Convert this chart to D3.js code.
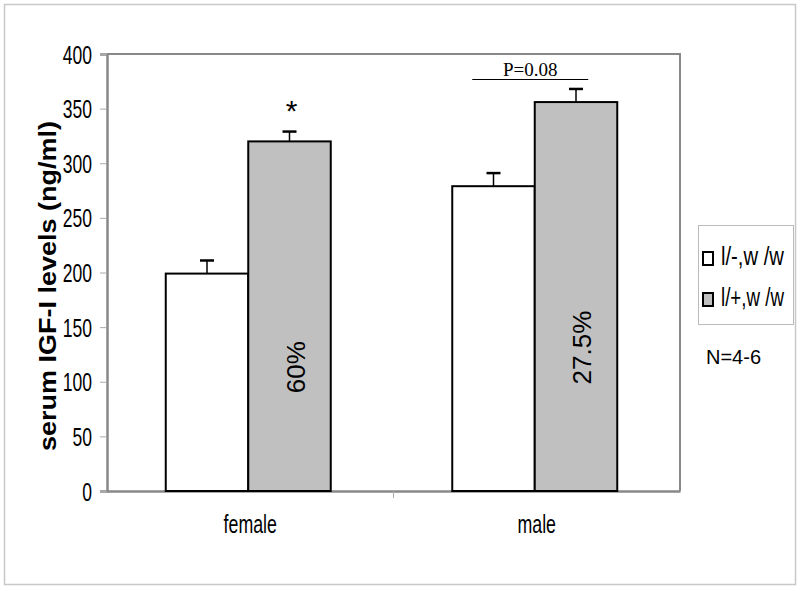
<!DOCTYPE html>
<html>
<head>
<meta charset="utf-8">
<script src="https://cdn.jsdelivr.net/npm/d3@7"></script>
<style>
  body { margin: 0; background: #fff; }
</style>
</head>
<body>
<div id="chart"></div>
<script>
// data
const groups = ["female", "male"];
const series = ["l/-,w/w", "l/+,w/w"];
const means = [[199, 320], [279, 356]];
const errs = [[12, 9], [12, 12]];
const pctLabels = ["60%", "27.5%"];
const yTicks = [0, 50, 100, 150, 200, 250, 300, 350, 400];

const w = 800, h = 591;
const colors = ["#ffffff", "#c0c0c0"];
const sans = "'Liberation Sans', Arial, sans-serif";

var svg = d3.select("#chart").append("svg")
    .attr("width", w).attr("height", h)
    .attr("font-family", sans);

// squeeze text horizontally to look like a narrow face
function narrow(sel, k) {
    sel.each(function() {
        var len = this.getComputedTextLength();
        d3.select(this).attr("textLength", len * k).attr("lengthAdjust", "spacingAndGlyphs");
    });
}

// outer frame
svg.append("rect")
    .attr("x", 4.5).attr("y", 4.5).attr("width", 791).attr("height", 580)
    .attr("fill", "none").attr("stroke", "#c8c8c8").attr("stroke-width", 1.5);

var x0 = d3.scaleBand().domain(groups).range([107, 680]);
var x1 = d3.scaleBand().domain(series).range([0, 165]);
var y = d3.scaleLinear().domain([0, 400]).range([491, 54]);

// plot frame top/right
svg.append("path")
    .attr("d", "M107," + y(400) + "H680V" + y(0))
    .attr("fill", "none").attr("stroke", "#888").attr("stroke-width", 2);

// y axis
var yAxis = svg.append("g")
    .attr("transform", "translate(107,0)")
    .call(d3.axisLeft(y).tickValues(yTicks).tickSize(7).tickPadding(8));
yAxis.select(".domain").attr("stroke", "#888").attr("stroke-width", 2.5);
yAxis.selectAll(".tick line").attr("stroke", "#aaa");
yAxis.selectAll("text").attr("font-size", 25).attr("fill", "#000")
    .attr("font-family", sans).attr("dy", "0.36em");
narrow(yAxis.selectAll("text"), 0.7);

// x axis
var xAxis = svg.append("g")
    .attr("transform", "translate(0," + y(0) + ")")
    .call(d3.axisBottom(x0).tickSize(0).tickPadding(31));
xAxis.select(".domain").attr("stroke", "#888").attr("stroke-width", 2.5);
xAxis.selectAll("text").attr("font-size", 25).attr("fill", "#000")
    .attr("font-family", sans).attr("dy", "0.45em");
narrow(xAxis.selectAll("text"), 0.71);
// divider tick between categories
svg.append("line")
    .attr("x1", x0("male")).attr("x2", x0("male"))
    .attr("y1", y(0)).attr("y2", y(0) + 7)
    .attr("stroke", "#aaa");

var offset = (x0.bandwidth() - 165) / 2 - 2;

var g = svg.append("g");
groups.forEach(function(grp, gi) {
    var gx = x0(grp) + offset;
    series.forEach(function(s, si) {
        var bx = gx + x1(s);
        var v = means[gi][si], e = errs[gi][si];
        var cx = bx + x1.bandwidth() / 2;
        // error bar
        g.append("line")
            .attr("x1", cx).attr("x2", cx)
            .attr("y1", y(v)).attr("y2", y(v + e))
            .attr("stroke", "#000").attr("stroke-width", 1.5);
        g.append("line")
            .attr("x1", cx - 7).attr("x2", cx + 7)
            .attr("y1", y(v + e)).attr("y2", y(v + e))
            .attr("stroke", "#000").attr("stroke-width", 2.5);
        g.append("rect")
            .attr("x", bx).attr("y", y(v))
            .attr("width", x1.bandwidth()).attr("height", y(0) - y(v))
            .attr("fill", colors[si]).attr("stroke", "#000").attr("stroke-width", 2);
        if (si === 1) {
            var ty = (y(0) + y(v)) / 2 + 51;
            g.append("text")
                .attr("transform", "translate(" + (cx + 15) + "," + ty + ") rotate(-90)")
                .attr("text-anchor", "middle")
                .attr("font-size", 26)
                .text(pctLabels[gi]);
        }
    });
});

// significance annotations
var fGray = x0("female") + offset + x1(series[1]) + x1.bandwidth() / 2;
svg.append("text")
    .attr("x", fGray + 2).attr("y", y(means[0][1] + errs[0][1]) - 11)
    .attr("text-anchor", "middle")
    .attr("font-size", 30)
    .text("*");

var mStart = x0("male") + offset;
svg.append("line")
    .attr("x1", mStart + 20).attr("x2", mStart + 136)
    .attr("y1", 79.5).attr("y2", 79.5)
    .attr("stroke", "#000").attr("stroke-width", 1);
svg.append("text")
    .attr("x", mStart + 78).attr("y", 76)
    .attr("text-anchor", "middle")
    .attr("font-family", "'Liberation Serif', 'Times New Roman', serif")
    .attr("font-size", 19)
    .text("P=0.08");

// y axis title
var yTitle = svg.append("text")
    .attr("transform", "translate(56,286) rotate(-90)")
    .attr("text-anchor", "middle")
    .attr("font-weight", "bold")
    .attr("font-size", 24)
    .text("serum IGF-I levels (ng/ml)");
yTitle.attr("textLength", 330).attr("lengthAdjust", "spacingAndGlyphs");

// legend
var leg = svg.append("g");
leg.append("rect")
    .attr("x", 698.5).attr("y", 225.5).attr("width", 95).attr("height", 99)
    .attr("fill", "#fff").attr("stroke", "#bbb");
series.forEach(function(s, i) {
    var ly = 265 + i * 41;
    leg.append("rect")
        .attr("x", 703).attr("y", ly - 13).attr("width", 10).attr("height", 13)
        .attr("fill", colors[i]).attr("stroke", "#000").attr("stroke-width", 2);
    var t = leg.append("text")
        .attr("font-size", 26)
        .text(s.replace("w/w", "w /w"));
    var k = 63 / t.node().getComputedTextLength();
    t.attr("transform", "translate(721," + ly + ") scale(" + k + ",1)");
});

svg.append("text")
    .attr("x", 706).attr("y", 364)
    .attr("font-size", 20)
    .text("N=4-6");
</script>
</body>
</html>
